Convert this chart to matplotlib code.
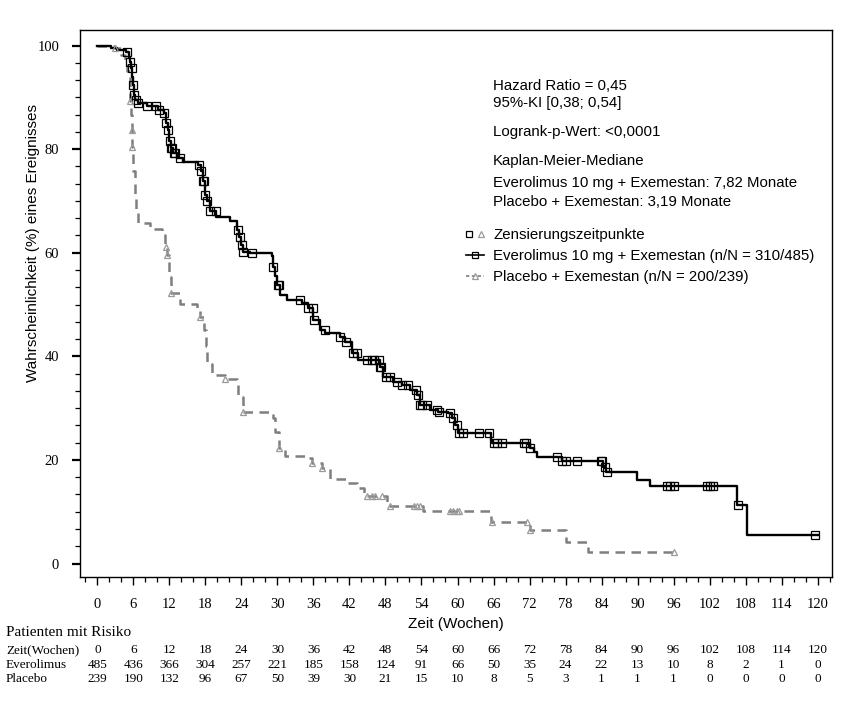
import matplotlib
matplotlib.use('Agg')
import matplotlib.pyplot as plt
import matplotlib.transforms as mtrans
from matplotlib.lines import Line2D
from matplotlib.legend_handler import HandlerTuple
from matplotlib.ticker import MultipleLocator
import numpy as np

# Kaplan-Meier step curves (time in weeks, survival in %)
evero_t = [0, 2.3, 3.2, 4.8, 5.2, 5.4, 5.6, 5.8, 5.95, 6.05, 6.2, 6.8, 8.2, 10.1, 11.1, 11.5,
           11.8, 12.0, 12.2, 12.6, 13.2, 14.3, 16.8, 17.3, 17.6, 17.9, 18.2, 18.7, 19.8, 22.1,
           23.2, 23.6, 24.0, 24.3, 25.5, 29.1, 29.3, 29.6, 29.9, 30.5, 31.6, 34.1, 35.1, 36.0,
           37.1, 38.0, 40.5, 41.3, 42.4, 43.5, 47.1, 47.6, 49.3, 50.7, 52.1, 53.2, 53.8, 55.5,
           56.8, 58.5, 59.1, 59.6, 60.1, 65.5, 65.7, 72.1, 72.7, 73.2, 77.4, 84.3, 84.8, 89.9,
           92.0, 106.6, 108.2, 120.0]
evero_s = [100, 99.6, 99.2, 98.7, 97.5, 96.9, 95.7, 94.0, 92.4, 90.5, 89.5, 88.9, 88.3, 87.6, 87.0, 85.0,
           83.7, 81.5, 80.3, 79.2, 78.3, 77.5, 77.0, 75.7, 73.8, 71.2, 69.9, 68.0, 66.9, 66.2,
           64.4, 63.0, 61.5, 60.2, 59.9, 59.4, 57.3, 55.5, 53.8, 51.8, 50.9, 50.3, 49.3, 47.0,
           45.1, 44.5, 43.8, 42.8, 40.6, 39.3, 38.0, 36.1, 35.1, 34.5, 33.5, 32.5, 30.6, 29.6,
           29.3, 29.1, 28.1, 26.8, 25.2, 23.8, 23.2, 22.3, 21.6, 20.6, 19.8, 18.7, 17.6, 16.2,
           14.9, 11.3, 5.5, 5.5]

plac_t = [0, 2.9, 4.0, 4.6, 5.0, 5.4, 5.5, 5.6, 5.7, 5.8, 5.9, 6.0, 6.2, 6.45, 6.8, 8.8, 10.7,
          11.3, 11.6, 12.0, 12.3, 13.8, 16.6, 17.1, 17.7, 18.1, 18.2, 19.1, 21.3, 23.2, 23.5,
          24.3, 29.2, 29.6, 30.2, 31.3, 35.0, 35.7, 37.4, 38.8, 41.6, 43.2, 44.5, 48.2, 54.3,
          65.5, 72.0, 78.0, 81.7, 96.0]
plac_s = [100, 99.5, 98.2, 96.6, 95.0, 93.1, 89.2, 86.6, 83.6, 80.5, 78.0, 75.7, 71.2, 67.7, 65.8, 64.6, 63.4,
          61.2, 59.6, 55.4, 52.2, 50.2, 49.3, 47.6, 45.1, 41.9, 38.6, 36.4, 35.6, 34.5, 32.2,
          29.2, 28.0, 25.4, 22.4, 20.7, 20.3, 19.5, 18.4, 16.4, 15.5, 14.5, 13.0, 11.2, 10.2,
          8.1, 6.5, 4.2, 2.3, 2.3]

# censoring times (weeks)
evero_cens = [5.0, 5.4, 5.7, 5.95, 6.1, 6.5, 6.8, 8.3, 9.8, 10.3, 11.1, 11.5, 11.8, 12.1, 12.2, 12.4,
              12.8, 13.0, 13.7, 16.9, 17.3, 17.6, 17.8, 18.0, 18.2, 18.7, 19.7, 23.5, 23.7, 24.1,
              24.3, 25.7, 29.3, 30.1, 30.3, 33.8, 35.1, 35.9, 36.1, 37.9, 40.5, 41.4, 42.6, 43.3,
              44.9, 45.7, 46.1, 47.0, 47.1, 47.3, 48.1, 48.8, 49.9, 50.7, 51.8, 53.1, 53.5, 53.8,
              54.1, 54.9, 56.6, 57.0, 58.8, 59.2, 59.9, 60.3, 60.9, 63.5, 65.2, 66.0, 66.6, 67.4,
              71.0, 71.4, 72.1, 76.6, 77.4, 78.0, 79.9, 83.9, 84.1, 84.6, 84.9, 94.9, 95.4, 96.0,
              101.6, 102.1, 102.6, 106.8, 119.6]
plac_cens = [3.0, 5.5, 5.7, 5.8, 11.45, 11.6, 12.3, 17.1, 21.3, 24.3, 30.3, 35.7, 37.4, 44.9,
             45.7, 46.3, 47.4, 48.7, 52.7, 53.2, 53.8, 58.8, 59.3, 59.9, 60.2, 65.7, 71.6, 72.0, 96.0]

# patients at risk
risk_weeks = list(range(0, 121, 6))
risk_evero = [485, 436, 366, 304, 257, 221, 185, 158, 124, 91, 66, 50, 35, 24, 22, 13, 10, 8, 2, 1, 0]
risk_plac = [239, 190, 132, 96, 67, 50, 39, 30, 21, 15, 10, 8, 5, 3, 1, 1, 1, 0, 0, 0, 0]

stats_lines = [
    ('Hazard Ratio = 0,45', 86),
    ('95%-KI [0,38; 0,54]', 103),
    ('Logrank-p-Wert: <0,0001', 132),
    ('Kaplan-Meier-Mediane', 161),
    ('Everolimus 10 mg + Exemestan: 7,82 Monate', 183),
    ('Placebo + Exemestan: 3,19 Monate', 202),
]

W, H = 846, 705
SANS = 'Liberation Sans'
SERIF = 'Liberation Serif'
GRAY = '#7f7f7f'
TRI = '#9a9a9a'


def fx(px):
    return px / W


def fy(py):
    return 1 - py / H


def step_value(ts, ss, t):
    i = np.searchsorted(ts, t, side='right') - 1
    return ss[i]


fig = plt.figure(figsize=(W / 100, H / 100), dpi=100)
ax = fig.add_axes([fx(80), fy(577), fx(832) - fx(80), fy(30) - fy(577)])

ax.step(evero_t, evero_s, where='post', color='black', lw=1.7, zorder=3)
ax.step(plac_t, plac_s, where='post', color=GRAY, lw=1.8, ls=(0, (3.8, 2.6)), zorder=2)

ev_y = [step_value(evero_t, evero_s, t) for t in evero_cens]
pl_y = [step_value(plac_t, plac_s, t) for t in plac_cens]
ax.plot(evero_cens, ev_y, ls='none', marker='s', ms=5.2, mfc='none', mec='black', mew=0.9, zorder=4)
ax.plot(plac_cens, pl_y, ls='none', marker='^', ms=5, mfc='none', mec=TRI, mew=0.9, zorder=4)

ax.set_xlim(-2.9, 122.4)
ax.set_ylim(-2.6, 103)
ax.xaxis.set_major_locator(MultipleLocator(6))
ax.xaxis.set_minor_locator(MultipleLocator(2))
ax.yaxis.set_major_locator(MultipleLocator(20))
ax.yaxis.set_minor_locator(MultipleLocator(20 / 6))
ax.tick_params(axis='both', which='major', direction='out', length=6, width=1.0,
               labelsize=10.5, pad=9)
ax.tick_params(axis='y', which='major', width=1.6)
ax.tick_params(axis='both', which='minor', direction='out', length=3.5, width=0.9)
for lab in ax.get_xticklabels() + ax.get_yticklabels():
    lab.set_fontfamily(SERIF)
for sp in ax.spines.values():
    sp.set_linewidth(1.0)

fig.text(fx(456), fy(624), 'Zeit (Wochen)', family=SANS, fontsize=11, ha='center', va='center')
fig.text(fx(33), fy(243), 'Wahrscheinlichkeit (%) eines Ereignisses', family=SANS, fontsize=11,
         rotation=90, ha='center', va='center')

for txt, py in stats_lines:
    fig.text(fx(493), fy(py), txt, family=SANS, fontsize=10.8, ha='left', va='center')

h_cens = (Line2D([], [], ls='none', marker='s', ms=5, mfc='none', mec='black', mew=0.9),
          Line2D([], [], ls='none', marker='^', ms=5, mfc='none', mec=TRI, mew=0.9))
h_ev = Line2D([], [], color='black', lw=1.2, marker='s', ms=5, mfc='none', mec='black', mew=0.9)
h_pl = Line2D([], [], color=GRAY, lw=1.2, ls=(0, (2, 1.5)), marker='^', ms=5, mfc='none',
              mec=TRI, mew=0.9)
fig.legend([h_cens, h_ev, h_pl],
           ['Zensierungszeitpunkte', 'Everolimus 10 mg + Exemestan (n/N = 310/485)',
            'Placebo + Exemestan (n/N = 200/239)'],
           handler_map={tuple: HandlerTuple(ndivide=None, pad=0.4)},
           loc='upper left', bbox_to_anchor=(fx(466), fy(228)), frameon=False,
           borderpad=0, borderaxespad=0, handlelength=1.2, handletextpad=0.6,
           labelspacing=0.47, prop={'family': SANS, 'size': 10.8})

# patients at risk table
tr = mtrans.blended_transform_factory(ax.transData, fig.transFigure)
fig.text(fx(6), fy(633), 'Patienten mit Risiko', family=SERIF, fontsize=11, ha='left', va='center')
rows = [('Zeit(Wochen)', risk_weeks, 650), ('Everolimus', risk_evero, 665), ('Placebo', risk_plac, 679)]
for name, vals, py in rows:
    fig.text(fx(6), fy(py), name, family=SERIF, fontsize=9.5, ha='left', va='center')
    for wk, v in zip(risk_weeks, vals):
        ax.text(wk, fy(py), str(v), transform=tr, family=SERIF, fontsize=9.5,
                ha='center', va='center', clip_on=False)

fig.savefig('out.png', dpi=100)
